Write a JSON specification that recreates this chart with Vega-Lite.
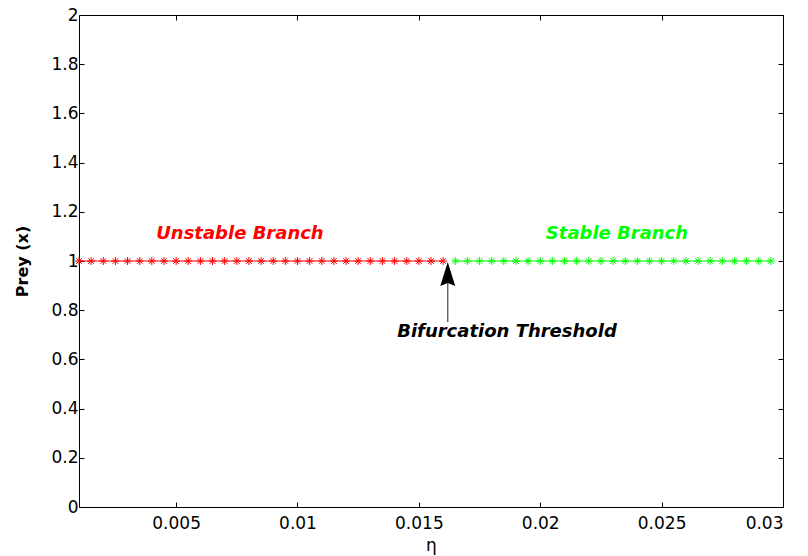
{
  "$schema": "https://vega.github.io/schema/vega-lite/v6.json",
  "width": 704,
  "height": 492,
  "autosize": {"type": "none"},
  "padding": {"left": 79, "top": 15, "right": 25, "bottom": 49},
  "background": "white",
  "config": {
    "view": {"stroke": "black", "strokeWidth": 1},
    "axis": {
      "domain": false,
      "grid": false,
      "ticks": true,
      "tickColor": "black",
      "tickSize": -5,
      "tickWidth": 1,
      "labelColor": "black",
      "labelFont": "DejaVu Sans",
      "labelFontSize": 17,
      "titleColor": "black",
      "titleFont": "DejaVu Sans"
    }
  },
  "datasets": {
    "pts": [
      {"eta": 0.001, "prey": 1, "branch": "Unstable"},
      {"eta": 0.0015, "prey": 1, "branch": "Unstable"},
      {"eta": 0.002, "prey": 1, "branch": "Unstable"},
      {"eta": 0.0025, "prey": 1, "branch": "Unstable"},
      {"eta": 0.003, "prey": 1, "branch": "Unstable"},
      {"eta": 0.0035, "prey": 1, "branch": "Unstable"},
      {"eta": 0.004, "prey": 1, "branch": "Unstable"},
      {"eta": 0.0045, "prey": 1, "branch": "Unstable"},
      {"eta": 0.005, "prey": 1, "branch": "Unstable"},
      {"eta": 0.0055, "prey": 1, "branch": "Unstable"},
      {"eta": 0.006, "prey": 1, "branch": "Unstable"},
      {"eta": 0.0065, "prey": 1, "branch": "Unstable"},
      {"eta": 0.007, "prey": 1, "branch": "Unstable"},
      {"eta": 0.0075, "prey": 1, "branch": "Unstable"},
      {"eta": 0.008, "prey": 1, "branch": "Unstable"},
      {"eta": 0.0085, "prey": 1, "branch": "Unstable"},
      {"eta": 0.009, "prey": 1, "branch": "Unstable"},
      {"eta": 0.0095, "prey": 1, "branch": "Unstable"},
      {"eta": 0.01, "prey": 1, "branch": "Unstable"},
      {"eta": 0.0105, "prey": 1, "branch": "Unstable"},
      {"eta": 0.011, "prey": 1, "branch": "Unstable"},
      {"eta": 0.0115, "prey": 1, "branch": "Unstable"},
      {"eta": 0.012, "prey": 1, "branch": "Unstable"},
      {"eta": 0.0125, "prey": 1, "branch": "Unstable"},
      {"eta": 0.013, "prey": 1, "branch": "Unstable"},
      {"eta": 0.0135, "prey": 1, "branch": "Unstable"},
      {"eta": 0.014, "prey": 1, "branch": "Unstable"},
      {"eta": 0.0145, "prey": 1, "branch": "Unstable"},
      {"eta": 0.015, "prey": 1, "branch": "Unstable"},
      {"eta": 0.0155, "prey": 1, "branch": "Unstable"},
      {"eta": 0.016, "prey": 1, "branch": "Unstable"},
      {"eta": 0.0165, "prey": 1, "branch": "Stable"},
      {"eta": 0.017, "prey": 1, "branch": "Stable"},
      {"eta": 0.0175, "prey": 1, "branch": "Stable"},
      {"eta": 0.018, "prey": 1, "branch": "Stable"},
      {"eta": 0.0185, "prey": 1, "branch": "Stable"},
      {"eta": 0.019, "prey": 1, "branch": "Stable"},
      {"eta": 0.0195, "prey": 1, "branch": "Stable"},
      {"eta": 0.02, "prey": 1, "branch": "Stable"},
      {"eta": 0.0205, "prey": 1, "branch": "Stable"},
      {"eta": 0.021, "prey": 1, "branch": "Stable"},
      {"eta": 0.0215, "prey": 1, "branch": "Stable"},
      {"eta": 0.022, "prey": 1, "branch": "Stable"},
      {"eta": 0.0225, "prey": 1, "branch": "Stable"},
      {"eta": 0.023, "prey": 1, "branch": "Stable"},
      {"eta": 0.0235, "prey": 1, "branch": "Stable"},
      {"eta": 0.024, "prey": 1, "branch": "Stable"},
      {"eta": 0.0245, "prey": 1, "branch": "Stable"},
      {"eta": 0.025, "prey": 1, "branch": "Stable"},
      {"eta": 0.0255, "prey": 1, "branch": "Stable"},
      {"eta": 0.026, "prey": 1, "branch": "Stable"},
      {"eta": 0.0265, "prey": 1, "branch": "Stable"},
      {"eta": 0.027, "prey": 1, "branch": "Stable"},
      {"eta": 0.0275, "prey": 1, "branch": "Stable"},
      {"eta": 0.028, "prey": 1, "branch": "Stable"},
      {"eta": 0.0285, "prey": 1, "branch": "Stable"},
      {"eta": 0.029, "prey": 1, "branch": "Stable"},
      {"eta": 0.0295, "prey": 1, "branch": "Stable"}
    ],
    "labels": [
      {"eta": 0.00763, "prey": 1.11, "text": "Unstable Branch", "branch": "Unstable"},
      {"eta": 0.02316, "prey": 1.11, "text": "Stable Branch", "branch": "Stable"}
    ],
    "arrow": [
      {"eta": 0.01619, "y0": 0.752, "y1": 0.935, "text": "Bifurcation Threshold", "tx": 0.01863, "ty": 0.711}
    ]
  },
  "layer": [
    {
      "data": {"name": "pts"},
      "mark": {"type": "line", "strokeWidth": 1, "clip": false},
      "encoding": {
        "x": {
          "field": "eta", "type": "quantitative",
          "scale": {"domain": [0.001, 0.03], "nice": false, "zero": false},
          "axis": {
            "orient": "bottom",
            "values": [0.005, 0.01, 0.015, 0.02, 0.025, 0.03],
            "format": "~g",
            "labelPadding": 13,
            "title": "η",
            "titleFontSize": 17,
            "titleFontWeight": "normal",
            "titlePadding": 6
          }
        },
        "y": {
          "field": "prey", "type": "quantitative",
          "scale": {"domain": [0, 2], "nice": false},
          "axis": {
            "orient": "left",
            "values": [0, 0.2, 0.4, 0.6, 0.8, 1, 1.2, 1.4, 1.6, 1.8, 2],
            "format": "~g",
            "labelPadding": 6,
            "title": "Prey (x)",
            "titleFontSize": 16,
            "titleFontWeight": "bold",
            "titlePadding": 20
          }
        },
        "color": {
          "field": "branch", "type": "nominal",
          "scale": {"domain": ["Unstable", "Stable"], "range": ["#ff0000", "#00ff00"]},
          "legend": null
        }
      }
    },
    {
      "data": {"name": "pts"},
      "mark": {
        "type": "point",
        "shape": "M-1,0L1,0M0,-1L0,1M-0.7,-0.7L0.7,0.7M-0.7,0.7L0.7,-0.7",
        "filled": false,
        "size": 64,
        "strokeWidth": 1,
        "opacity": 1,
        "clip": false
      },
      "encoding": {
        "x": {"field": "eta", "type": "quantitative", "scale": {"domain": [0.001, 0.03], "nice": false, "zero": false}, "axis": null},
        "y": {"field": "prey", "type": "quantitative", "scale": {"domain": [0, 2], "nice": false}, "axis": null},
        "color": {
          "field": "branch", "type": "nominal",
          "scale": {"domain": ["Unstable", "Stable"], "range": ["#ff0000", "#00ff00"]},
          "legend": null
        }
      }
    },
    {
      "data": {"name": "labels"},
      "mark": {"type": "text", "font": "DejaVu Sans", "fontSize": 18, "fontWeight": "bold", "fontStyle": "italic", "align": "center", "baseline": "middle"},
      "encoding": {
        "x": {"field": "eta", "type": "quantitative", "axis": null},
        "y": {"field": "prey", "type": "quantitative", "axis": null},
        "text": {"field": "text"},
        "color": {
          "field": "branch", "type": "nominal",
          "scale": {"domain": ["Unstable", "Stable"], "range": ["#ff0000", "#00ff00"]},
          "legend": null
        }
      }
    },
    {
      "data": {"name": "arrow"},
      "mark": {"type": "rule", "color": "#555555", "strokeWidth": 1.3},
      "encoding": {
        "x": {"field": "eta", "type": "quantitative", "axis": {"orient": "top", "values": [0.005, 0.01, 0.015, 0.02, 0.025, 0.03], "labels": false, "title": null}},
        "y": {"field": "y0", "type": "quantitative", "axis": {"orient": "right", "values": [0, 0.2, 0.4, 0.6, 0.8, 1, 1.2, 1.4, 1.6, 1.8, 2], "labels": false, "title": null}},
        "y2": {"field": "y1"}
      }
    },
    {
      "data": {"name": "arrow"},
      "mark": {"type": "point", "shape": "M0,-1L0.5,0.6L0,0.4L-0.5,0.6Z", "filled": true, "size": 900, "color": "black", "opacity": 1, "strokeWidth": 0},
      "encoding": {
        "x": {"field": "eta", "type": "quantitative", "axis": null},
        "y": {"field": "y1", "type": "quantitative", "axis": null}
      }
    },
    {
      "data": {"name": "arrow"},
      "mark": {"type": "text", "font": "DejaVu Sans", "fontSize": 18, "fontWeight": "bold", "fontStyle": "italic", "align": "center", "baseline": "middle", "color": "black"},
      "encoding": {
        "x": {"field": "tx", "type": "quantitative", "axis": null},
        "y": {"field": "ty", "type": "quantitative", "axis": null},
        "text": {"field": "text"}
      }
    }
  ],
  "resolve": {"axis": {"x": "independent", "y": "independent"}}
}
